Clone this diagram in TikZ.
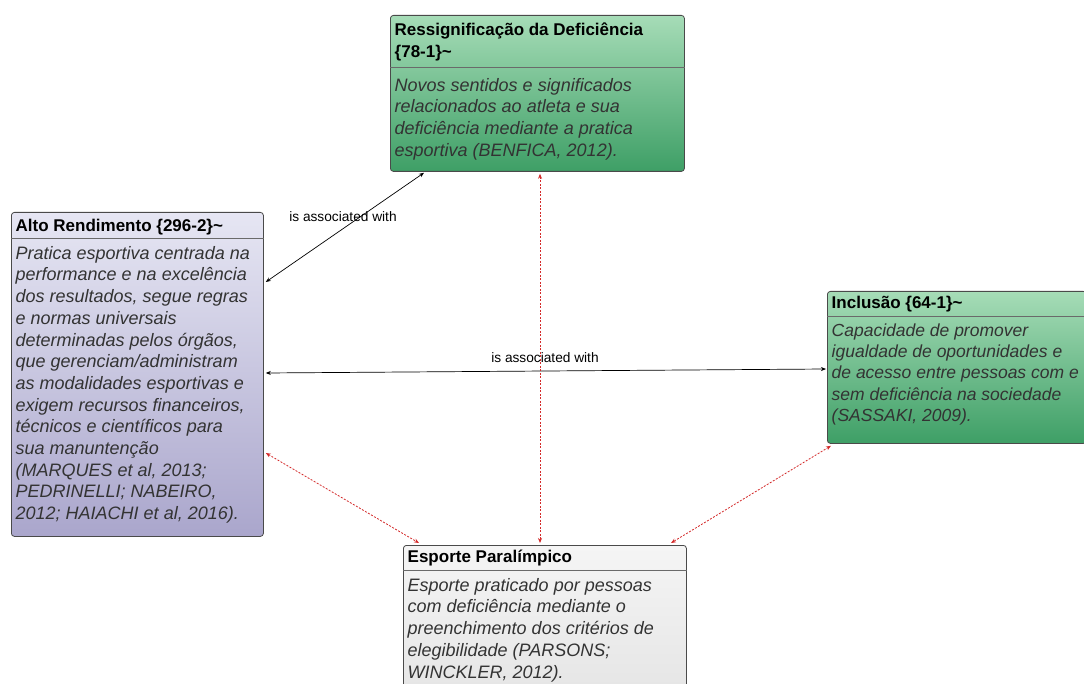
\documentclass[tikz,border=0pt]{standalone}
\usepackage{fontspec}
\setmainfont{Liberation Sans}
\usetikzlibrary{arrows.meta,calc}
\definecolor{bordc}{HTML}{4A4A4A}
\definecolor{divc}{HTML}{6A6A6A}
\definecolor{greenT}{HTML}{A6DCB7}
\definecolor{greenB}{HTML}{3E9F66}
\definecolor{lavT}{HTML}{E6E6F3}
\definecolor{lavB}{HTML}{AAA6CC}
\definecolor{grayT}{HTML}{F5F5F5}
\definecolor{grayB}{HTML}{E4E4E4}
\definecolor{bodyc}{HTML}{333333}
\definecolor{redc}{HTML}{D42A2A}
\begin{document}
\begin{tikzpicture}[x=1pt,y=-1pt,
  box/.style={draw=bordc,line width=0.8pt,rounded corners=3pt,anchor=north west,inner sep=0pt},
  divider/.style={draw=divc,line width=0.8pt},
  head/.style={anchor=north west,inner sep=0pt,align=left,font=\bfseries\fontsize{17}{21.7}\selectfont},
  body/.style={anchor=north west,inner sep=0pt,align=left,text=bodyc,font=\itshape\fontsize{18}{21.7}\selectfont},
  assoc/.style={draw=black,line width=0.7pt,{Stealth[length=5pt,width=4pt]}-{Stealth[length=5pt,width=4pt]}},
  redlink/.style={draw=redc,line width=0.8pt,dash pattern=on 2pt off 1.5pt,{Stealth[length=5pt,width=4pt]}-{Stealth[length=5pt,width=4pt]}},
  lab/.style={inner sep=0pt,font=\fontsize{13.7}{16}\selectfont}]
\useasboundingbox[fill=white] (0,0) rectangle (1084,684);
\newcommand{\fl}{\rule{0pt}{14pt}}
% boxes
\node[box,top color=greenT,bottom color=greenB,minimum width=294pt,minimum height=156pt] (res) at (390,15) {};
\node[box,top color=lavT,bottom color=lavB,minimum width=252pt,minimum height=324pt] (alto) at (11,212) {};
\node[box,top color=greenT,bottom color=greenB,minimum width=259pt,minimum height=152pt] (incl) at (827,291) {};
\node[box,top color=grayT,bottom color=grayB,minimum width=283pt,minimum height=160pt] (esp) at (403,545) {};
% dividers
\draw[divider] ($(res.north west)+(0,52)$) -- ($(res.north east)+(0,52)$);
\draw[divider] ($(alto.north west)+(0,26)$) -- ($(alto.north east)+(0,26)$);
\draw[divider] ($(incl.north west)+(0,25)$) -- ($(incl.north east)+(0,25)$);
\draw[divider] ($(esp.north west)+(0,25)$) -- ($(esp.north east)+(0,25)$);
% texts
\node[head] (resh) at (394.5,21.5) {\fl Ressignificação da Deficiência\\{\{78-1\}\textasciitilde}};
\node[body] (resb) at (394.5,77) {\fl Novos sentidos e significados\\relacionados ao atleta e sua\\deficiência mediante a pratica\\esportiva (BENFICA, 2012).};
\node[head] (altoh) at (15.5,217) {\fl Alto Rendimento \{296-2\}\textasciitilde};
\node[body] (altob) at (15.5,245) {\fl Pratica esportiva centrada na\\performance e na excelência\\dos resultados, segue regras\\e normas universais\\determinadas pelos órgãos,\\que gerenciam/administram\\as modalidades esportivas e\\exigem recursos financeiros,\\técnicos e científicos para\\sua manuntenção\\(MARQUES et al, 2013;\\PEDRINELLI; NABEIRO,\\2012; HAIACHI et al, 2016).};
\node[head] (inclh) at (831.5,294) {\fl Inclusão \{64-1\}\textasciitilde};
\node[body,font=\itshape\fontsize{17.5}{21.3}\selectfont] (inclb) at (831.5,322) {\fl Capacidade de promover\\igualdade de oportunidades e\\de acesso entre pessoas com e\\sem deficiência na sociedade\\(SASSAKI, 2009).};
\node[head] (esph) at (407.5,548) {\fl Esporte Paralímpico};
\node[body] (espb) at (407.5,577) {\fl Esporte praticado por pessoas\\com deficiência mediante o\\preenchimento dos critérios de\\elegibilidade (PARSONS;\\WINCKLER, 2012).};
% connectors
\coordinate (r1) at ($(res.south west)+(34,1)$);
\coordinate (a1) at ($(alto.north east)+(2,70)$);
\draw[assoc] (a1) -- (r1);
\node[lab] (l1) at (343,217) {is associated with};
\coordinate (a2) at ($(alto.north east)+(2,161)$);
\coordinate (i2) at ($(incl.north west)+(-1,78)$);
\draw[assoc] (a2) -- (i2);
\node[lab] (l2) at (545,358) {is associated with};
\coordinate (r3) at ($(res.south west)+(150,2)$);
\coordinate (e3) at ($(esp.north west)+(137,-2)$);
\draw[redlink] (r3) -- (e3);
\coordinate (a4) at ($(alto.north east)+(2,241)$);
\coordinate (e4) at ($(esp.north west)+(16,-2)$);
\draw[redlink] (a4) -- (e4);
\coordinate (i5) at ($(incl.south west)+(4,2)$);
\coordinate (e5) at ($(esp.north west)+(268,-2)$);
\draw[redlink] (i5) -- (e5);
\end{tikzpicture}
\end{document}
